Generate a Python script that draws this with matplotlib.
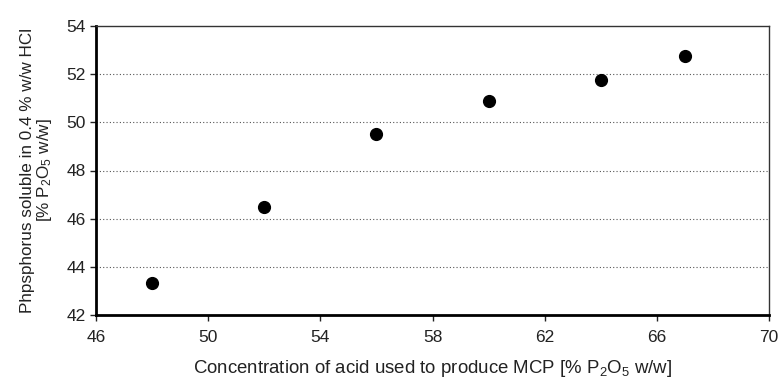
import matplotlib
matplotlib.use("Agg")
import matplotlib.pyplot as plt

plt.rcParams["font.family"] = ["Liberation Sans", "DejaVu Sans"]
plt.rcParams["mathtext.fontset"] = "custom"
plt.rcParams["mathtext.rm"] = "Liberation Sans"
plt.rcParams["mathtext.it"] = "Liberation Sans"

# acid concentration vs soluble phosphorus
acid_conc = [48, 52, 56, 60, 64, 67]
p_soluble = [43.33, 46.48, 49.52, 50.90, 51.76, 52.74]

x_ticks = [46, 50, 54, 58, 62, 66, 70]
y_ticks = [42, 44, 46, 48, 50, 52, 54]

fig = plt.figure(figsize=(7.82, 3.83), dpi=100)
ax = fig.add_axes([96 / 782, 1 - 315 / 383, (769 - 96) / 782, (315 - 26) / 383])

ax.scatter(acid_conc, p_soluble, s=72, color="black", zorder=3)

ax.set_xlim(46, 70)
ax.set_ylim(42, 54)
ax.set_xticks(x_ticks)
ax.set_yticks(y_ticks)
ax.tick_params(labelsize=12.5, direction="out", length=4, width=1, colors="#222222")
ax.tick_params(axis="x", pad=7)

for y in y_ticks[1:-1]:
    ax.axhline(y, color="#555555", linestyle=(0, (1, 2)), linewidth=0.8, zorder=1)

ax.spines["left"].set_linewidth(2)
ax.spines["bottom"].set_linewidth(2)
ax.spines["top"].set_linewidth(1)
ax.spines["right"].set_linewidth(1)
ax.spines["top"].set_color("#333333")
ax.spines["right"].set_color("#333333")

ax.set_xlabel("Concentration of acid used to produce MCP [% P$_2$O$_5$ w/w]",
              fontsize=13.4, labelpad=9, color="#222222")
ax.set_ylabel("Phpsphorus soluble in 0.4 % w/w HCl\n[% P$_2$O$_5$ w/w]",
              fontsize=12.3, labelpad=9, color="#222222", linespacing=1.0)

fig.savefig("out.png", dpi=100)
